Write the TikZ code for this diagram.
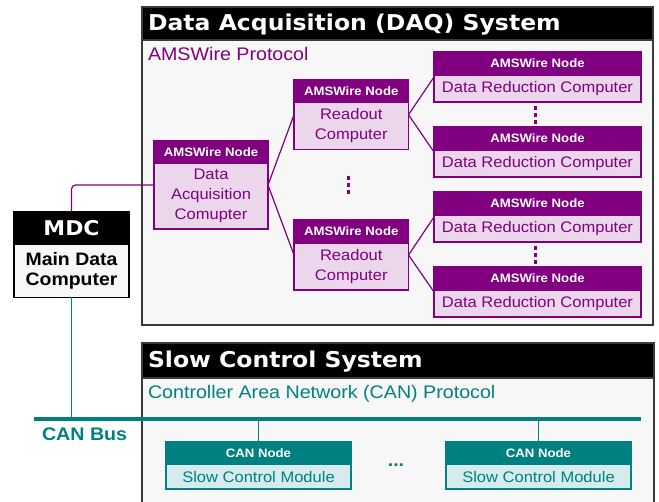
\documentclass[tikz,border=0pt]{standalone}
\usepackage{fontspec}
\setmainfont{Liberation Sans}[FakeStretch=1.08]
\newfontfamily\headfont{DejaVu Sans}[FakeStretch=1.08]
\usetikzlibrary{fit}

\definecolor{amsp}{HTML}{800080}
\definecolor{amslight}{HTML}{ECD6EC}
\definecolor{cant}{HTML}{008080}
\definecolor{canlight}{HTML}{D6ECEC}
\definecolor{panelgray}{HTML}{F7F7F7}
\definecolor{framegray}{HTML}{3A3A3A}

\tikzset{
  every node/.style={inner sep=0pt, outer sep=0pt},
  amshead/.style={fill=amsp, draw=amsp, line width=1.2pt, text=white,
    font=\bfseries\fontsize{12.2}{14}\selectfont},
  amsbody/.style={fill=amslight, draw=amsp, line width=1.2pt, text=amsp,
    align=center, font=\fontsize{15.3}{20}\selectfont},
  canhead/.style={fill=cant, draw=cant, line width=1.2pt, text=white,
    font=\bfseries\fontsize{12.2}{14}\selectfont},
  canbody/.style={fill=canlight, draw=cant, line width=1.2pt, text=cant,
    align=center, font=\fontsize{15.3}{20}\selectfont},
  mdchead/.style={fill=black, draw=black, line width=1.2pt, text=white,
    font=\headfont\bfseries\fontsize{20.3}{22}\selectfont},
  mdcbody/.style={fill=panelgray, draw=black, line width=1.2pt, text=black,
    align=center, font=\bfseries\fontsize{18}{20.5}\selectfont},
  amslink/.style={draw=amsp, line width=1.2pt},
  canlink/.style={draw=cant, line width=1.2pt},
  panel/.style={fill=panelgray, draw=framegray, line width=1.5pt, anchor=north west},
  titlebar/.style={fill=black, draw=framegray, line width=1.5pt, anchor=north west},
  titletext/.style={text=white, anchor=base west,
    font=\headfont\bfseries\fontsize{21.8}{24}\selectfont},
  protocol/.style={anchor=base west, font=\fontsize{18.2}{20}\selectfont},
}

% two-part box: #1 style prefix, #2 name, #3 x, #4 top, #5 width,
% #6 header height, #7 body height, #8 header text, #9 body text
\newcommand\twopart[9]{%
  \node[#1head, anchor=north west, minimum width=#5pt, minimum height=#6pt]
    (#2-h) at (#3,#4) {#8};
  \node[#1body, anchor=north west, minimum width=#5pt, minimum height=#7pt]
    (#2-b) at (#2-h.south west) {#9};
  \node[fit=(#2-h)(#2-b)] (#2) {};
}

% stacked square dots
\newcommand\vdotsat[3]{%
  \foreach \dy in {-6.7,0,6.7}
    \fill[#3] (#1-1.5,#2+\dy-2) rectangle (#1+1.5,#2+\dy+2);
}

\begin{document}
\begin{tikzpicture}[x=1pt, y=-1pt]
\useasboundingbox (0,0) rectangle (659,502);

% Data acquisition panel
\node[panel, minimum width=511pt, minimum height=318pt] (daqpanel) at (142,7) {};
\node[titlebar, minimum width=511pt, minimum height=33pt] (daqbar) at (142,7) {};
\node[titletext] (daqtitle) at (148,31) {Data Acquisition (DAQ) System};
\node[protocol, text=amsp] (amsproto) at (148,61) {AMSWire Protocol};

% Slow control panel
\node[panel, minimum width=512pt, minimum height=170pt] (scpanel) at (142,343) {};
\node[titlebar, minimum width=512pt, minimum height=35pt] (scbar) at (142,343) {};
\node[titletext] (sctitle) at (148,368) {Slow Control System};
\node[protocol, text=cant] (canproto) at (148,399) {Controller Area Network (CAN) Protocol};

% AMSWire nodes
\twopart{ams}{daqc}{154}{141}{114}{22}{66}{AMSWire Node}{Data\\Acquisition\\Comupter}
\twopart{ams}{ro1}{294}{80}{114.5}{22.5}{47}{AMSWire Node}{Readout\\Computer}
\twopart{ams}{ro2}{294}{220}{114.5}{23}{47}{AMSWire Node}{Readout\\Computer}
\twopart{ams}{drc1}{434}{52}{207}{23}{27}{AMSWire Node}{Data Reduction Computer}
\twopart{ams}{drc2}{434}{127}{207}{23}{27}{AMSWire Node}{Data Reduction Computer}
\twopart{ams}{drc3}{434}{192}{207}{23}{27}{AMSWire Node}{Data Reduction Computer}
\twopart{ams}{drc4}{434}{267}{207}{23}{27}{AMSWire Node}{Data Reduction Computer}

\vdotsat{348.3}{185}{amsp}
\vdotsat{535.5}{115}{amsp}
\vdotsat{535.5}{255}{amsp}

% AMSWire links
\draw[amslink] (daqc.east) -- (ro1.west);
\draw[amslink] (daqc.east) -- (ro2.west);
\draw[amslink] (ro1.east) -- (drc1.west);
\draw[amslink] (ro1.east) -- (drc2.west);
\draw[amslink] (ro2.east) -- (drc3.west);
\draw[amslink] (ro2.east) -- (drc4.west);

% Main data computer
\twopart{mdc}{mdc}{14}{212}{115}{32.5}{53}{MDC}{Main Data\\Computer}
\draw[amslink, rounded corners=4pt] (mdc-h.north) |- (daqc.west);

% CAN bus and nodes
\coordinate (busL) at (34,418.7);
\coordinate (busR) at (641,418.7);
\draw[canlink] (mdc-b.south) -- (mdc-b.south |- busL);

\twopart{can}{can1}{166}{442}{185}{22.5}{24.5}{CAN Node}{Slow Control Module}
\twopart{can}{can2}{446}{442}{185}{22.5}{24.5}{CAN Node}{Slow Control Module}
\draw[canlink] (can1.north) -- (can1.north |- busL);
\draw[canlink] (can2.north) -- (can2.north |- busL);
\draw[draw=cant, line width=4pt] (busL) -- (busR);

\node[anchor=base west, text=cant, font=\bfseries\fontsize{18.2}{20}\selectfont]
  (busname) at (42,440.7) {CAN Bus};
\node[anchor=base, text=cant, font=\bfseries\fontsize{18}{20}\selectfont]
  (candots) at (396,467) {...};
\end{tikzpicture}
\end{document}
